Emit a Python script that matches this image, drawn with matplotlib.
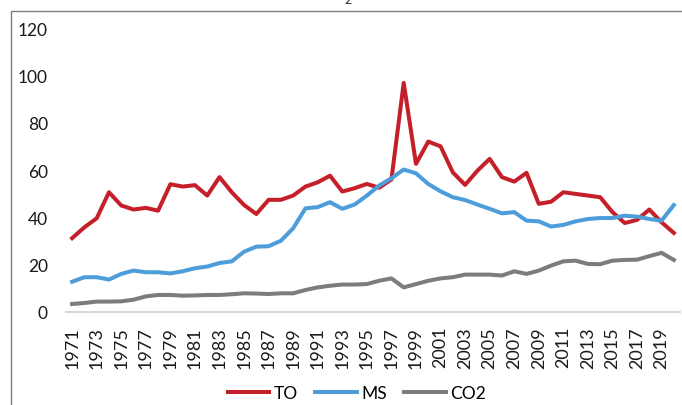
import matplotlib.pyplot as plt
from matplotlib.patches import Rectangle

# yearly series
years = list(range(1971, 2021))
to_vals = [31.2, 35.8, 39.6, 50.6, 45.0, 43.3, 44.0, 42.8, 54.0, 53.0,
           53.6, 49.2, 57.0, 50.6, 45.2, 41.4, 47.4, 47.4, 49.2, 53.0,
           54.8, 57.6, 50.9, 52.3, 54.1, 52.5, 56.0, 96.8, 62.6, 72.0,
           70.0, 59.0, 53.7, 59.7, 64.7, 57.0, 55.1, 58.8, 45.7, 46.6,
           50.6, 49.9, 49.2, 48.5, 42.2, 37.6, 38.9, 43.3, 37.9, 33.4]
ms_vals = [12.8, 14.7, 14.7, 13.7, 16.1, 17.5, 16.8, 16.8, 16.3, 17.2,
           18.5, 19.2, 20.7, 21.4, 25.5, 27.6, 27.8, 30.1, 35.4, 43.8,
           44.3, 46.4, 43.6, 45.4, 49.2, 53.4, 56.5, 60.2, 58.6, 54.1,
           51.0, 48.5, 47.3, 45.4, 43.6, 41.7, 42.2, 38.6, 38.3, 36.1,
           36.8, 38.3, 39.3, 39.7, 39.7, 40.7, 40.3, 39.3, 38.6, 45.2]
co2_vals = [3.4, 3.8, 4.4, 4.4, 4.5, 5.2, 6.6, 7.2, 7.2, 6.9,
            7.0, 7.2, 7.2, 7.5, 7.9, 7.8, 7.6, 7.9, 7.9, 9.3,
            10.4, 11.1, 11.6, 11.6, 11.8, 13.2, 14.2, 10.4, 11.8, 13.2,
            14.2, 14.7, 15.8, 15.8, 15.8, 15.4, 17.2, 16.1, 17.5, 19.6,
            21.4, 21.7, 20.3, 20.2, 21.7, 22.0, 22.1, 23.6, 25.0, 22.0]
series_names = ["TO", "MS", "CO2"]
colors = ["#C5202A", "#4E9DDB", "#7C7C7C"]

plt.rcParams['font.family'] = ['Lato', 'DejaVu Sans']

fig = plt.figure(figsize=(6.82, 4.06), dpi=100)
ax = fig.add_axes([66 / 682, 93 / 406, 614 / 682, 284 / 406])

x = list(range(len(years)))
for vals, name, c in zip([to_vals, ms_vals, co2_vals], series_names, colors):
    ax.plot(x, vals, color=c, lw=2.9, label=name, solid_joinstyle='round')

ax.set_xlim(-0.5, len(years) - 0.5)
ax.set_ylim(0, 120)
ax.set_yticks(range(0, 121, 20))
ax.set_xticks(x[::2])
ax.set_xticklabels([str(y) for y in years[::2]], rotation=90)

for s in ['top', 'right', 'left']:
    ax.spines[s].set_visible(False)
ax.spines['bottom'].set_color('#D9D9D9')
ax.spines['bottom'].set_linewidth(1.5)
ax.tick_params(axis='y', length=0, pad=13, labelsize=12.5, labelcolor='#1a1a1a')
ax.tick_params(axis='x', length=0, pad=10, labelsize=13, labelcolor='#1a1a1a')

fig.legend(loc='center', bbox_to_anchor=(357 / 682, 12 / 406), ncol=3,
           frameon=False, fontsize=12.5, handlelength=2.4, handletextpad=0.25,
           columnspacing=1.0)

# chart area border (cropped on the right and bottom in the source)
fig.patches.append(Rectangle((11 / 682, -0.1), 1.0, (406 - 12) / 406 + 0.1,
                             transform=fig.transFigure, fill=False,
                             edgecolor='#7f7f7f', lw=1.0))
# remnant of a caption subscript above the chart, cut by the top edge as in the source
fig.text(348 / 682, 1.0, "2", fontsize=9, ha='center', va='center', color='#333333')

fig.savefig("out.png", dpi=100)
